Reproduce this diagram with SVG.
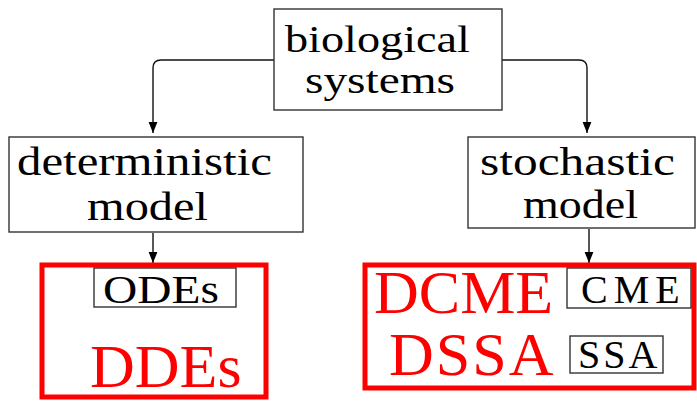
<svg xmlns="http://www.w3.org/2000/svg" width="697" height="401" viewBox="0 0 697 401">
<style>
text{font-family:'Liberation Serif','Times New Roman','DejaVu Serif',serif}
.box{fill:#fff;stroke:#333;stroke-width:1.4}
.red{fill:none;stroke:#ff0000;stroke-width:5}
.t{font-size:40px;fill:#000}
.s{font-size:38px;fill:#000}
.r{font-size:62px;fill:#ff0000}
.c{fill:none;stroke:#111;stroke-width:1.4}
</style>
<defs>
<marker id="ah" markerWidth="12" markerHeight="10" refX="11" refY="5" orient="auto" markerUnits="userSpaceOnUse">
<path d="M0,0.6 L11,5 L0,9.4 Z" fill="#000"/>
</marker>
</defs>
<g id="connectors">
<path class="c" d="M274,60 H161 Q153,60 153,68 V133" marker-end="url(#ah)"/>
<path class="c" d="M502,60 H579 Q587,60 587,68 V133" marker-end="url(#ah)"/>
<path class="c" d="M153,233 V263" marker-end="url(#ah)"/>
<path class="c" d="M589,229 V263" marker-end="url(#ah)"/>
</g>
<g id="bio">
<rect class="box" x="274" y="9" width="228" height="101"/>
<text class="s" font-family="Liberation Serif, serif" transform="translate(285,52) scale(1.217,1)">biological</text>
<text class="s" font-family="Liberation Serif, serif" transform="translate(305,93) scale(1.247,1)">systems</text>
</g>
<g id="det">
<rect class="box" x="9" y="137" width="294" height="95"/>
<text class="t" font-family="Liberation Serif, serif" transform="translate(17,175) scale(1.221,1)">deterministic</text>
<text class="t" font-family="Liberation Serif, serif" transform="translate(87,220) scale(1.21,1)">model</text>
</g>
<g id="sto">
<rect class="box" x="468" y="137" width="227" height="91"/>
<text class="t" font-family="Liberation Serif, serif" transform="translate(480,175) scale(1.236,1)">stochastic</text>
<text class="t" font-family="Liberation Serif, serif" transform="translate(523,218) scale(1.15,1)">model</text>
</g>
<g id="detgroup">
<rect class="red" x="42" y="265" width="224" height="132"/>
<rect class="box" x="94" y="268" width="142" height="39"/>
<text class="t" font-family="Liberation Serif, serif" transform="translate(103,303) scale(1.186,1)">ODEs</text>
<text class="r" font-family="Liberation Serif, serif" x="90" y="387">DDEs</text>
</g>
<g id="stogroup">
<rect class="red" x="365" y="265" width="329" height="123"/>
<rect class="box" x="567" y="268" width="124" height="40"/>
<text class="t" font-family="Liberation Serif, serif" x="581" y="303" letter-spacing="6">CME</text>
<rect class="box" x="570" y="336" width="93" height="37"/>
<text class="t" font-family="Liberation Serif, serif" x="578" y="368" letter-spacing="3">SSA</text>
<text class="r" font-family="Liberation Serif, serif" x="374" y="313">DCME</text>
<text class="r" font-family="Liberation Serif, serif" x="389" y="375" letter-spacing="2">DSSA</text>
</g>
</svg>
